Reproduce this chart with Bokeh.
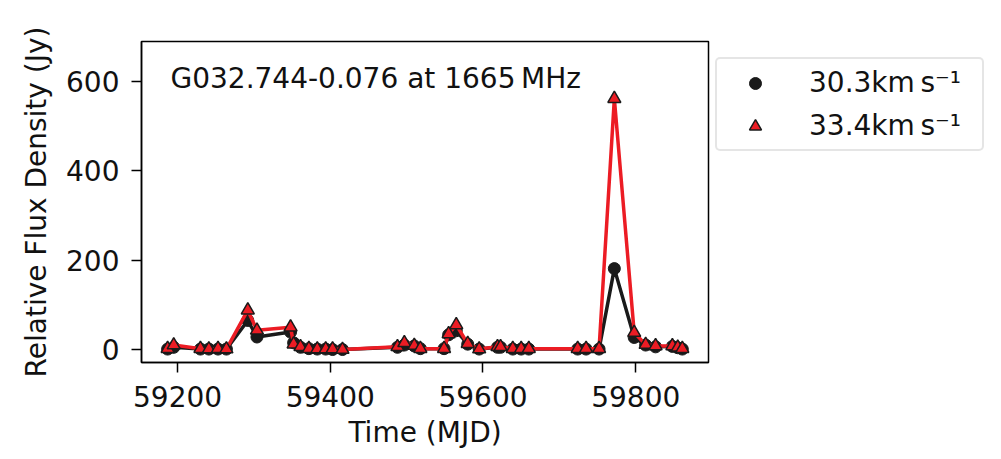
from bokeh.plotting import figure
from bokeh.models import ColumnDataSource, Legend, LegendItem, Label, FixedTicker, Range1d
from bokeh.embed import file_html
from bokeh.resources import INLINE

# ---- data ----
mjd = [59187, 59195, 59230, 59241, 59253, 59264, 59292, 59304, 59348, 59352,
       59361, 59372, 59383, 59394, 59403, 59416, 59488, 59497, 59510, 59518,
       59549, 59555, 59565, 59580, 59595, 59619, 59623, 59639, 59650, 59660,
       59724, 59735, 59752, 59772, 59798, 59813, 59826, 59848, 59855, 59861]
flux_30_3 = [1, 5, 1, 1, 1, 1, 65, 28, 39, 15,
             5, 2, 1, 1, 0, 0, 5, 10, 8, 2,
             2, 33, 42, 12, 1, 5, 5, 1, 1, 1,
             1, 1, 1, 181, 27, 10, 6, 7, 4, 1]
flux_33_4 = [2, 10, 2, 1, 2, 1, 88, 43, 50, 12,
             6, 2, 1, 1, 1, 0, 6, 15, 9, 2,
             2, 35, 55, 13, 1, 6, 6, 2, 2, 2,
             2, 2, 2, 561, 38, 11, 8, 8, 5, 2]
series_labels = ["30.3km\u2009s\u207b\u00b9", "33.4km\u2009s\u207b\u00b9"]
title_text = "G032.744-0.076 at 1665\u2009MHz"
x_ticks = [59200, 59400, 59600, 59800]
y_ticks = [0, 200, 400, 600]

FONT = "DejaVu Sans"
FS = "28px"
TXT = "#111111"
RED = "#ec1c24"

src = ColumnDataSource(dict(x=mjd, a=flux_30_3, b=flux_33_4))

p = figure(frame_width=567, frame_height=321,
           min_border_left=141, min_border_top=41, min_border_right=275, min_border_bottom=90,
           x_range=Range1d(59152.8, 59895.3), y_range=Range1d(-29, 689),
           output_backend="svg", toolbar_location=None,
           background_fill_color="white", border_fill_color="white")

p.xgrid.visible = False
p.ygrid.visible = False
p.outline_line_color = "black"
p.outline_line_width = 1.5

for ax in (p.xaxis[0], p.yaxis[0]):
    ax.axis_line_width = 1.5
    ax.axis_line_color = "black"
    ax.major_tick_line_width = 1.5
    ax.major_tick_line_color = "black"
    ax.major_tick_out = 10
    ax.major_tick_in = 0
    ax.minor_tick_out = 0
    ax.minor_tick_in = 0
    ax.major_label_text_font = FONT
    ax.major_label_text_font_size = FS
    ax.major_label_text_color = TXT
    ax.axis_label_text_font = FONT
    ax.axis_label_text_font_size = FS
    ax.axis_label_text_color = TXT
    ax.axis_label_text_font_style = "normal"

p.xaxis[0].ticker = FixedTicker(ticks=x_ticks)
p.yaxis[0].ticker = FixedTicker(ticks=y_ticks)
p.xaxis[0].axis_label = "Time (MJD)"
p.yaxis[0].axis_label = "Relative Flux Density (Jy)"
p.xaxis[0].major_label_standoff = 13
p.xaxis[0].axis_label_standoff = 6
p.yaxis[0].major_label_standoff = 12
p.yaxis[0].axis_label_standoff = 10

# series 1 (black circles)
p.line("x", "a", source=src, line_color="#1a1a1a", line_width=3.5)
r1 = p.scatter("x", "a", source=src, marker="circle", size=12,
               fill_color="#1a1a1a", line_color="#1a1a1a", line_width=1)
# series 2 (red triangles)
p.line("x", "b", source=src, line_color=RED, line_width=3.5)
r2 = p.scatter("x", "b", source=src, marker="triangle", size=13,
               fill_color=RED, line_color="#1a1a1a", line_width=1.5)

p.add_layout(Label(x=29, y=284, x_units="screen", y_units="screen", text=title_text,
                   text_font=FONT, text_font_size=FS, text_color=TXT,
                   text_baseline="alphabetic", text_align="left"))

legend = Legend(items=[LegendItem(label=series_labels[0], renderers=[r1]),
                       LegendItem(label=series_labels[1], renderers=[r2])],
                location=(7, 211), margin=0)
legend.label_text_font = FONT
legend.label_text_font_size = FS
legend.label_text_color = TXT
legend.glyph_width = 62
legend.glyph_height = 30
legend.label_height = 30
legend.label_width = 166
legend.label_standoff = 23
legend.spacing = 10
legend.padding = 7
legend.border_line_color = "#cccccc"
legend.border_line_width = 2
legend.border_radius = 5
legend.background_fill_color = "white"
legend.background_fill_alpha = 0.8
p.add_layout(legend, "right")

open("out.html", "w").write(file_html(p, INLINE))
